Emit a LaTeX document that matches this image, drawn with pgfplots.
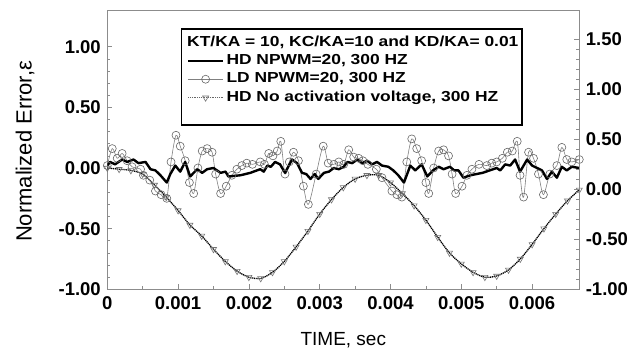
\documentclass[border=0pt]{standalone}
\usepackage{pgfplots}
\pgfplotsset{compat=1.18}
\usepackage{fontspec}
\setmainfont{Liberation Sans}
\newfontfamily\legfont{Liberation Sans}[FakeStretch=1.2]

\pgfplotstableread{
t v
0.00000 0.02
0.00004 0.05
0.00011 0.03
0.00021 0.07
0.00028 0.05
0.00037 0.07
0.00044 0.04
0.00054 0.05
0.00061 -0.01
0.00068 -0.02
0.00075 -0.06
0.00084 -0.12
0.00089 -0.05
0.00096 0.02
0.00103 -0.03
0.00110 0.05
0.00117 -0.07
0.00127 -0.01
0.00134 -0.04
0.00141 -0.01
0.00150 0.00
0.00160 -0.04
0.00167 -0.03
0.00171 -0.07
0.00188 -0.06
0.00202 -0.04
0.00216 -0.01
0.00221 -0.03
0.00226 0.02
0.00231 0.01
0.00237 0.05
0.00244 0.03
0.00251 -0.04
0.00261 0.07
0.00268 0.04
0.00275 -0.04
0.00281 -0.05
0.00287 -0.09
0.00293 -0.05
0.00298 -0.09
0.00306 -0.04
0.00313 -0.03
0.00320 0.00
0.00327 -0.01
0.00334 0.01
0.00339 0.05
0.00346 0.04
0.00353 0.07
0.00360 0.04
0.00367 0.06
0.00374 0.03
0.00381 0.05
0.00388 0.02
0.00397 0.01
0.00404 -0.02
0.00411 -0.06
0.00419 -0.12
0.00428 0.02
0.00435 -0.02
0.00444 0.03
0.00452 -0.07
0.00460 -0.02
0.00468 0.01
0.00475 -0.01
0.00484 0.01
0.00490 -0.02
0.00496 -0.02
0.00503 -0.08
0.00513 -0.06
0.00530 -0.04
0.00550 0.00
0.00555 -0.02
0.00562 0.03
0.00569 0.02
0.00576 0.07
0.00583 -0.03
0.00593 0.07
0.00600 0.02
0.00607 0.00
0.00614 -0.02
0.00621 -0.09
0.00628 -0.03
0.00635 -0.08
0.00642 0.01
0.00649 -0.02
0.00656 0.01
0.0066667 0.00
}\hdpwm

\pgfplotstableread{
t v
0.00000 0.02
0.00007 0.16
0.00014 0.08
0.00021 0.12
0.00028 0.06
0.00035 0.01
0.00047 -0.01
0.00051 -0.06
0.00060 -0.10
0.00068 -0.19
0.00076 -0.22
0.00084 -0.25
0.00090 0.05
0.00097 0.27
0.00103 0.18
0.00110 0.06
0.00116 -0.12
0.00122 -0.21
0.00128 0.00
0.00134 0.14
0.00141 0.16
0.00148 0.13
0.00153 -0.05
0.00160 -0.21
0.00168 -0.15
0.00176 -0.06
0.00183 -0.01
0.00190 0.02
0.00197 0.04
0.00205 0.03
0.00216 0.05
0.00222 0.03
0.00228 0.12
0.00234 0.10
0.00240 0.14
0.00245 0.22
0.00251 -0.05
0.00257 0.05
0.00263 0.13
0.00270 0.06
0.00277 -0.15
0.00284 -0.30
0.00295 -0.05
0.00305 0.18
0.00312 0.04
0.00320 0.03
0.00327 0.05
0.00334 0.03
0.00341 0.15
0.00348 0.09
0.00355 0.08
0.00361 0.06
0.00368 0.03
0.00380 -0.01
0.00388 -0.08
0.00402 -0.19
0.00409 -0.22
0.00416 -0.24
0.00423 0.05
0.00430 0.24
0.00437 0.16
0.00444 0.06
0.00450 -0.12
0.00454 -0.21
0.00461 0.00
0.00468 0.14
0.00475 0.15
0.00482 0.10
0.00487 -0.05
0.00492 -0.21
0.00501 -0.15
0.00508 -0.06
0.00515 -0.01
0.00525 0.03
0.00536 0.02
0.00543 0.04
0.00550 0.05
0.00558 0.08
0.00565 0.13
0.00572 0.14
0.00579 0.22
0.00583 -0.06
0.00588 -0.24
0.00595 0.13
0.00602 0.08
0.00609 -0.05
0.00616 -0.22
0.00625 -0.05
0.00635 0.02
0.00642 0.17
0.00649 0.07
0.00656 0.05
0.0066667 0.07
}\ldpwm

\pgfplotstableread{
t v
0.0000000 0.00
0.0001667 -0.01
0.0003333 -0.02
0.0005000 -0.05
0.0006667 -0.14
0.0008333 -0.24
0.0010000 -0.35
0.0011667 -0.47
0.0013333 -0.56
0.0015000 -0.67
0.0016667 -0.77
0.0018333 -0.85
0.0020000 -0.90
0.0021667 -0.91
0.0023333 -0.86
0.0025000 -0.77
0.0026667 -0.65
0.0028333 -0.52
0.0030000 -0.38
0.0031667 -0.26
0.0033333 -0.16
0.0035000 -0.09
0.0036667 -0.06
0.0038333 -0.06
0.0040000 -0.12
0.0041667 -0.21
0.0043333 -0.31
0.0045000 -0.43
0.0046667 -0.57
0.0048333 -0.70
0.0050000 -0.79
0.0051667 -0.86
0.0053333 -0.90
0.0055000 -0.89
0.0056667 -0.84
0.0058333 -0.75
0.0060000 -0.63
0.0061667 -0.50
0.0063333 -0.38
0.0065000 -0.27
0.0066667 -0.18
}\noact

\begin{document}
\begin{tikzpicture}
\pgfplotsset{
  common/.style={
    at={(0bp,0bp)}, anchor=south west,
    scale only axis, width=472bp, height=279bp,
    xmin=0, xmax=0.0066667,
    scaled x ticks=false, scaled y ticks=false,
    axis line style={black!45, line width=0.7bp},
    tick style={black!45, line width=0.6bp},
    tick align=inside,
    major tick length=5bp, minor tick length=3bp,
    ticklabel style={font=\fontsize{18.5bp}{20bp}\selectfont\bfseries, text=black},
  }
}
\begin{axis}[common,
  ymin=-1, ymax=1.30,
  xtick pos=bottom, ytick pos=left,
  xtick={0,0.001,0.002,0.003,0.004,0.005,0.006},
  xticklabels={0,0.001,0.002,0.003,0.004,0.005,0.006},
  minor x tick num=1,
  ytick={-1,-0.5,0,0.5,1},
  yticklabels={-1.00,-0.50,0.00,0.50,1.00},
  minor y tick num=4,
  xticklabel style={yshift=-4bp},
  yticklabel style={xshift=-3bp},
  xlabel={TIME, sec},
  xlabel style={at={(axis description cs:0.5,-0.183)}, anchor=center, font=\fontsize{19bp}{21bp}\selectfont},
  ylabel={Normalized Error,ε},
  ylabel style={at={(axis description cs:-0.174,0.494)}, anchor=center, font=\fontsize{22bp}{24bp}\selectfont},
  legend cell align=left,
  legend image code/.code={\draw[mark repeat=2,mark phase=2,#1] plot coordinates {(0bp,0bp) (17.5bp,0bp) (35bp,0bp)};},
  legend style={at={(rel axis cs:0.1689,0.8459)}, anchor=north west, draw=none, fill=none,
    font=\legfont\bfseries\fontsize{14.5bp}{17bp}\selectfont, inner sep=0bp, row sep=4bp,
    nodes={inner xsep=2.5bp, inner ysep=0bp, text height=11bp, text depth=3.5bp}},
]
\addplot[forget plot, black, line width=1.3bp, dash pattern=on 1.2bp off 0.7bp, smooth,
  mark=triangle, mark size=3.5bp, mark options={solid, rotate=180, draw=black!55, fill=white, line width=0.6bp}]
  table[x=t,y=v]{\noact};
\addplot[forget plot, black!50, line width=0.6bp, smooth, tension=0.5,
  mark=o, mark size=4bp, mark options={draw=black!60, line width=0.6bp}]
  table[x=t,y=v]{\ldpwm};
\addplot[forget plot, black, line width=2.4bp, line join=round]
  table[x=t,y=v]{\hdpwm};

\draw[black, line width=1.2bp, fill=white] (rel axis cs:0.1576,0.589) rectangle (rel axis cs:0.8786,0.933);
\node[anchor=base west, inner sep=0bp, font=\legfont\bfseries\fontsize{14.5bp}{17bp}\selectfont]
  at (rel axis cs:0.1689,0.8685) {KT/KA = 10, KC/KA=10 and KD/KA= 0.01};

\addlegendimage{black, line width=1.8bp}
\addlegendentry{HD NPWM=20, 300 HZ}
\addlegendimage{black!50, line width=0.6bp, mark=o, mark size=4bp, mark options={draw=black!60, line width=0.6bp}}
\addlegendentry{LD NPWM=20, 300 HZ}
\addlegendimage{black!60, line width=1.0bp, dash pattern=on 1bp off 0.8bp, mark=triangle, mark size=3.5bp, mark options={solid, rotate=180, draw=black!55, fill=white, line width=0.6bp}}
\addlegendentry{HD No activation voltage, 300 HZ}
\end{axis}
\begin{axis}[common,
  ymin=-1, ymax=1.79,
  axis x line=none, axis y line*=right,
  ytick={-1,-0.5,0,0.5,1,1.5},
  yticklabels={-1.00,-0.50,0.00,0.50,1.00,1.50},
  minor y tick num=4,
  yticklabel style={xshift=3bp},
]
\end{axis}
\pgfresetboundingbox
\path (-107.3bp,-59.7bp) rectangle (534.7bp,289.3bp);
\end{tikzpicture}
\end{document}
